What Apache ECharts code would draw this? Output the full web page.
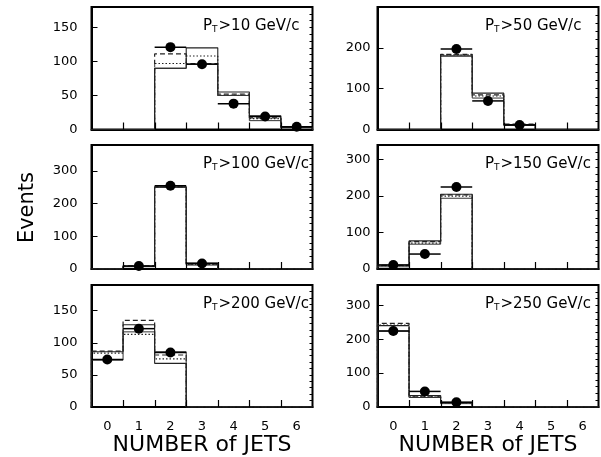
<!DOCTYPE html>
<html>
<head>
<meta charset="utf-8">
<script src="https://cdn.jsdelivr.net/npm/echarts@6/dist/echarts.min.js"></script>
<style>
html,body{margin:0;padding:0;background:#fff;}
#chart{width:601px;height:457px;}
</style>
</head>
<body>
<div id="chart"></div>
<script>
// ---- data ----
const jetBins = [0, 1, 2, 3, 4, 5, 6];
const jetLabels = ['0', '1', '2', '3', '4', '5', '6'];
const ptCuts = ['10', '50', '100', '150', '200', '250'];
const yMaxes = [180, 300, 380, 340, 190, 360];
const yMajor = [50, 100, 100, 100, 50, 100];
const yMinor = [10, 20, 20, 20, 10, 20];

// Pt > 10
const pt10Solid  = [0, 0, 90, 120, 55, 20, 3];
const pt10Solid2 = [0, 0, 90, 96, 50, 13, 3];
const pt10Dashed = [0, 0, 111, 97, 52, 17, 3];
const pt10Dotted = [0, 0, 97, 108, 50, 16, 3];
const pt10Data   = [null, null, 121, 96, 38, 19, 4];
// Pt > 50
const pt50Solid  = [0, 0, 180, 89, 12, 0, 0];
const pt50Solid2 = [0, 0, 180, 77, 10, 0, 0];
const pt50Dashed = [0, 0, 184, 85, 13, 0, 0];
const pt50Dotted = [0, 0, 183, 82, 12, 0, 0];
const pt50Data   = [null, null, 197, 70, 11, null, null];
// Pt > 100
const pt100Solid  = [0, 9, 252, 18, 0, 0, 0];
const pt100Solid2 = [0, 7, 250, 12, 0, 0, 0];
const pt100Dashed = [0, 10, 251, 15, 0, 0, 0];
const pt100Dotted = [0, 8, 251, 14, 0, 0, 0];
const pt100Data   = [null, 9, 255, 17, null, null, null];
// Pt > 150
const pt150Solid  = [11, 77, 205, 0, 0, 0, 0];
const pt150Solid2 = [6, 68, 194, 0, 0, 0, 0];
const pt150Dashed = [10, 75, 203, 0, 0, 0, 0];
const pt150Dotted = [9, 71, 200, 0, 0, 0, 0];
const pt150Data   = [11, 41, 225, null, null, null, null];
// Pt > 200
const pt200Solid  = [86, 128, 68, 0, 0, 0, 0];
const pt200Solid2 = [73, 117, 86, 0, 0, 0, 0];
const pt200Dashed = [87, 135, 81, 0, 0, 0, 0];
const pt200Dotted = [84, 113, 75, 0, 0, 0, 0];
const pt200Data   = [74, 122, 85, null, null, null, null];
// Pt > 250
const pt250Solid  = [240, 34, 14, 0, 0, 0, 0];
const pt250Solid2 = [224, 28, 10, 0, 0, 0, 0];
const pt250Dashed = [247, 30, 12, 0, 0, 0, 0];
const pt250Dotted = [242, 32, 11, 0, 0, 0, 0];
const pt250Data   = [224, 46, 14, null, null, null, null];

const panels = [
  [pt10Solid, pt10Solid2, pt10Dashed, pt10Dotted, pt10Data],
  [pt50Solid, pt50Solid2, pt50Dashed, pt50Dotted, pt50Data],
  [pt100Solid, pt100Solid2, pt100Dashed, pt100Dotted, pt100Data],
  [pt150Solid, pt150Solid2, pt150Dashed, pt150Dotted, pt150Data],
  [pt200Solid, pt200Solid2, pt200Dashed, pt200Dotted, pt200Data],
  [pt250Solid, pt250Solid2, pt250Dashed, pt250Dotted, pt250Data]
];

// ---- layout ----
const FONT = 'DejaVu Sans';
const gridBoxes = [
  {left: 91.5, top: 7, width: 221, height: 122.5},
  {left: 377.5, top: 7, width: 221, height: 122.5},
  {left: 91.5, top: 145, width: 221, height: 124},
  {left: 377.5, top: 145, width: 221, height: 124},
  {left: 91.5, top: 285, width: 221, height: 126},
  {left: 377.5, top: 285, width: 221, height: 126}
];

function stepPoints(vals) {
  const pts = [[jetBins[0] - 0.5, 0]];
  vals.forEach((v, i) => {
    pts.push([jetBins[i] - 0.5, v]);
    pts.push([jetBins[i] + 0.5, v]);
  });
  pts.push([jetBins[jetBins.length - 1] + 0.5, 0]);
  return pts;
}
// inner bin edges for x tick marks
const binEdges = jetBins.slice(0, -1).map(b => [b + 0.5, 0]);

const grid = [], xAxis = [], yAxis = [], series = [], graphic = [];

gridBoxes.forEach((b, g) => {
  const bottomRow = g >= 4;
  grid.push(Object.assign({show: true, borderColor: '#000', borderWidth: 2, backgroundColor: '#fff', containLabel: false}, b));
  xAxis.push({
    type: 'category', gridIndex: g, data: jetLabels, boundaryGap: true, position: 'bottom',
    axisLine: {show: true, onZero: false, lineStyle: {color: '#000', width: 2}},
    axisTick: {show: false},
    axisLabel: {show: bottomRow, interval: 0, color: '#000', fontFamily: FONT, fontSize: 13, margin: 13},
    splitLine: {show: false},
    name: bottomRow ? 'NUMBER of JETS' : '', nameLocation: 'middle', nameGap: 27,
    nameTextStyle: {color: '#000', fontFamily: FONT, fontSize: 22}
  });
  xAxis.push({type: 'value', gridIndex: g, min: -0.5, max: 6.5, show: false});
  const mx = yMaxes[g], st = yMajor[g];
  yAxis.push({
    type: 'value', gridIndex: g, min: 0, max: mx, interval: st,
    axisLine: {show: true, onZero: false, lineStyle: {color: '#000', width: 2}},
    axisTick: {show: true, inside: true, length: 6, lineStyle: {color: '#000', width: 1}},
    axisLabel: {color: '#000', fontFamily: FONT, fontSize: 13, margin: g % 2 === 0 ? 14 : 7,
      formatter: v => (v % st === 0 && v < mx) ? String(v) : ''},
    splitLine: {show: false}
  });
  yAxis.push({
    type: 'value', gridIndex: g, min: 0, max: mx, interval: yMinor[g],
    axisLine: {show: false, onZero: false},
    axisTick: {show: true, inside: true, length: 3, lineStyle: {color: '#000', width: 1}},
    axisLabel: {show: false}, splitLine: {show: false}
  });
  const [solid, solid2, dashed, dotted, dat] = panels[g];
  const xi = 2 * g + 1, yi = 2 * g;
  const lineBase = {type: 'line', xAxisIndex: xi, yAxisIndex: yi, symbol: 'none', silent: true, animation: false};
  series.push(Object.assign({}, lineBase, {data: stepPoints(dotted), lineStyle: {color: '#222', width: 1.2, type: [1.5, 2]}, z: 2}));
  series.push(Object.assign({}, lineBase, {data: stepPoints(dashed), lineStyle: {color: '#222', width: 1.2, type: [5, 3]}, z: 2}));
  series.push(Object.assign({}, lineBase, {data: stepPoints(solid2), lineStyle: {color: '#333', width: 1}, z: 3}));
  series.push(Object.assign({}, lineBase, {data: stepPoints(solid), lineStyle: {color: '#222', width: 1.1}, z: 3}));
  // x tick marks at bin edges (pixel-snapped)
  series.push({
    type: 'custom', xAxisIndex: xi, yAxisIndex: yi, data: binEdges, animation: false, silent: true, z: 6,
    renderItem: (params, api) => {
      const p = api.coord([api.value(0), 0]);
      const x = Math.round(p[0]) + 0.5;
      return {type: 'line', shape: {x1: x, y1: p[1], x2: x, y2: p[1] - 7}, style: {stroke: '#000', lineWidth: 1.2}};
    }
  });
  const pts = [];
  dat.forEach((v, i) => { if (v !== null) pts.push([jetBins[i], v]); });
  series.push({
    type: 'custom', xAxisIndex: xi, yAxisIndex: yi, data: pts, animation: false, z: 4,
    renderItem: (params, api) => {
      const x = api.value(0), v = api.value(1);
      const p1 = api.coord([x - 0.5, v]), p2 = api.coord([x + 0.5, v]);
      return {type: 'line', shape: {x1: p1[0], y1: p1[1], x2: p2[0], y2: p2[1]}, style: {stroke: '#000', lineWidth: 1.5}};
    }
  });
  series.push({
    type: 'scatter', xAxisIndex: xi, yAxisIndex: yi, data: pts, symbol: 'circle', symbolSize: 10,
    itemStyle: {color: '#000', opacity: 1}, animation: false, z: 5
  });
  graphic.push({
    type: 'text', left: b.left + (g % 2 === 0 ? 111.5 : 107.5), top: b.top + 12,
    style: {
      text: '{p|P}{t|T}{p|>' + ptCuts[g] + ' GeV/c}',
      rich: {
        p: {fontFamily: FONT, fontSize: 15, fill: '#000', lineHeight: 18},
        t: {fontFamily: FONT, fontSize: 9, fill: '#000', padding: [6, 1, 0, 0], lineHeight: 18}
      }
    }
  });
});

graphic.push({
  type: 'text', left: 17, top: 172, rotation: Math.PI / 2,
  style: {text: 'Events', fontFamily: FONT, fontSize: 21, fill: '#000'}
});

const chart = echarts.init(document.getElementById('chart'), null, {renderer: 'canvas'});
chart.setOption({
  animation: false,
  backgroundColor: '#fff',
  grid, xAxis, yAxis, series, graphic
});
</script>
</body>
</html>
